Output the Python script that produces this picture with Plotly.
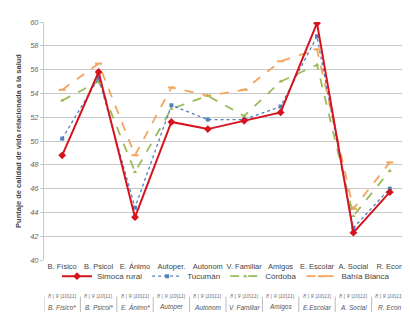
import plotly.graph_objects as go

categories = ["B. Físico", "B. Psicol", "E. Ánimo", "Autoper.", "Autonom", "V. Familiar",
              "Amigos", "E. Escolar", "A. Social", "R. Econ"]
table_labels = ["B. Físico*", "B. Psicol*", "E. Ánimo*", "Autoper", "Autonom", "V. Familiar",
                "Amigos", "E.Escolar", "A. Social", "R. Econ"]
age_labels = "8 | 9 |10|11|"

simoca = [48.8, 55.8, 43.6, 51.6, 51.0, 51.7, 52.4, 59.9, 42.3, 45.7]
tucuman = [50.2, 55.3, 44.4, 53.0, 51.8, 51.8, 52.9, 58.8, 42.7, 46.0]
cordoba = [53.4, 55.0, 47.4, 52.7, 53.8, 52.1, 55.0, 56.4, 43.7, 47.5]
bahia = [54.3, 56.5, 48.8, 54.5, 53.8, 54.3, 56.7, 57.7, 44.3, 48.2]

y_ticks = [40, 42, 44, 46, 48, 50, 52, 54, 56, 58, 60]

fig = go.Figure()
fig.add_trace(go.Scatter(x=categories, y=bahia, name="Bahía Blanca", mode="lines+markers",
                         line=dict(color="#F2A65E", width=1.8, dash="dash"),
                         marker=dict(symbol="line-ew", size=5, color="#F2A65E",
                                     line=dict(color="#F2A65E", width=2)),
                         legendrank=4))
fig.add_trace(go.Scatter(x=categories, y=cordoba, name="Córdoba", mode="lines+markers",
                         line=dict(color="#9BBB59", width=1.8, dash="dash"),
                         marker=dict(symbol="triangle-up", size=4, color="#9BBB59"),
                         legendrank=3))
fig.add_trace(go.Scatter(x=categories, y=tucuman, name="Tucumán", mode="lines+markers",
                         line=dict(color="#4F81BD", width=1.3, dash="dot"),
                         marker=dict(symbol="square", size=4, color="#4F81BD"),
                         legendrank=2))
fig.add_trace(go.Scatter(x=categories, y=simoca, name="Simoca rural", mode="lines+markers",
                         line=dict(color="#D7141E", width=2),
                         marker=dict(symbol="diamond", size=6, color="#D7141E"),
                         legendrank=1))

# bottom table
for i, lab in enumerate(table_labels):
    fig.add_annotation(x=i, y=-0.171, xref="x", yref="paper", text="<i>" + age_labels + "</i>",
                       showarrow=False,
                       font=dict(size=5.5, color="#777777", family="Liberation Sans"))
    fig.add_annotation(x=i, y=-0.221, xref="x", yref="paper", text="<i>" + lab + "</i>",
                       showarrow=False, font=dict(size=6.5, color="#555555", family="Liberation Sans"))
for i in range(len(categories) + 1):
    fig.add_shape(type="line", xref="x", yref="paper", x0=i - 0.5, x1=i - 0.5,
                  y0=-0.154, y1=-0.246, line=dict(color="#BBBBBB", width=1))

fig.update_layout(
    width=410, height=312,
    margin=dict(l=32, r=10, t=12, b=60),
    paper_bgcolor="white", plot_bgcolor="white",
    font=dict(family="Liberation Sans", size=9, color="#444444"),
    showlegend=True,
    legend=dict(orientation="h", x=0.5, xanchor="center", y=-0.068, yanchor="middle",
                font=dict(size=8, color="#444444"), tracegroupgap=0, itemwidth=30,
                bgcolor="rgba(0,0,0,0)"),
    xaxis=dict(type="category", range=[-0.5, 9.5], showgrid=False, ticks="",
               tickangle=0, tickfont=dict(size=7.5, color="#444444"), showline=False),
    yaxis=dict(range=[40, 60], tickvals=y_ticks, ticktext=["<i>%d</i>" % v for v in y_ticks],
               showgrid=True, gridcolor="#C8C8C8", gridwidth=1, zeroline=False,
               showline=True, linecolor="#C8C8C8", ticks="outside", ticklen=3, tickcolor="#C8C8C8",
               tickfont=dict(size=7.5, color="#666666"),
               title=dict(text="<b>Puntaje de calidad de vida relacionada a la salud</b>",
                          font=dict(size=7.5, color="#444444"), standoff=7)),
)

fig.write_html("out.html")
